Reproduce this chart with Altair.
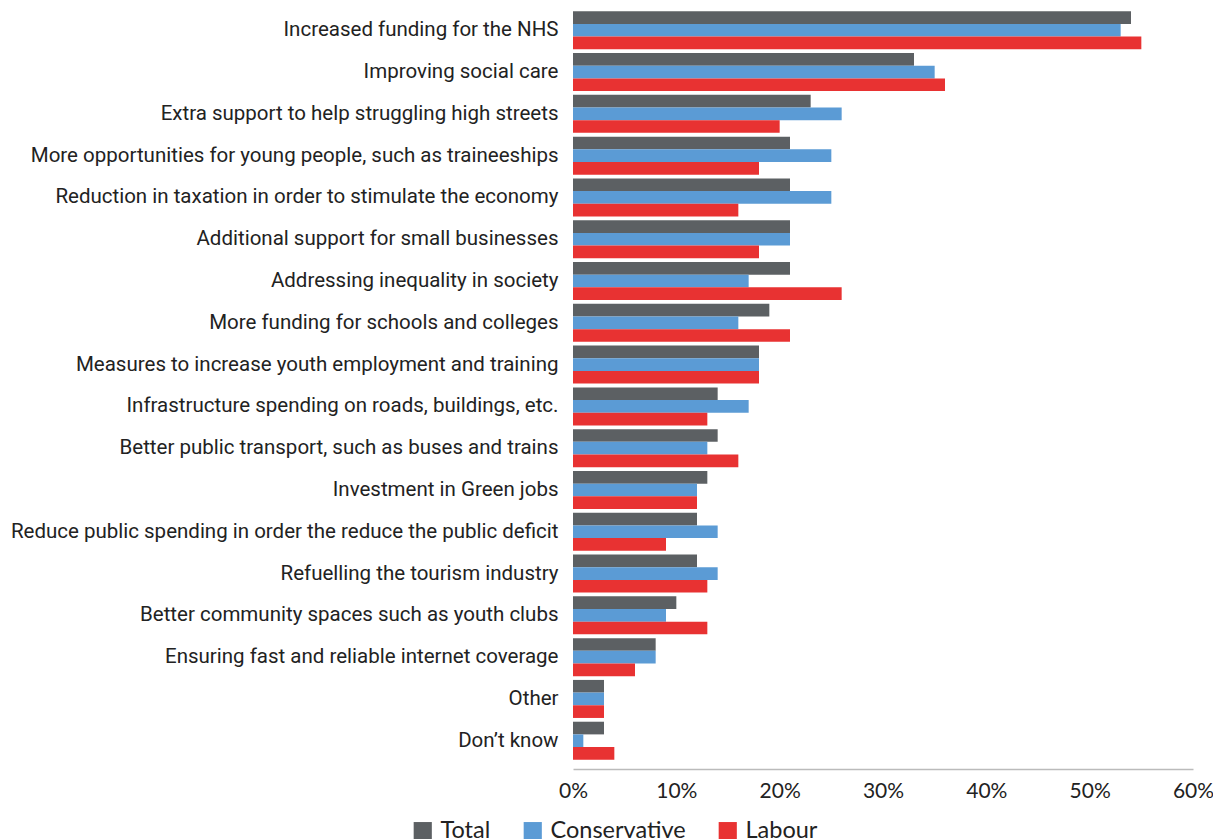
import altair as alt
import pandas as pd

categories = [
    "Increased funding for the NHS",
    "Improving social care",
    "Extra support to help struggling high streets",
    "More opportunities for young people, such as traineeships",
    "Reduction in taxation in order to stimulate the economy",
    "Additional support for small businesses",
    "Addressing inequality in society",
    "More funding for schools and colleges",
    "Measures to increase youth employment and training",
    "Infrastructure spending on roads, buildings, etc.",
    "Better public transport, such as buses and trains",
    "Investment in Green jobs",
    "Reduce public spending in order the reduce the public deficit",
    "Refuelling the tourism industry",
    "Better community spaces such as youth clubs",
    "Ensuring fast and reliable internet coverage",
    "Other",
    "Don\u2019t know",
]
series = ["Total", "Conservative", "Labour"]
total = [54, 33, 23, 21, 21, 21, 21, 19, 18, 14, 14, 13, 12, 12, 10, 8, 3, 3]
conservative = [53, 35, 26, 25, 25, 21, 17, 16, 18, 17, 13, 12, 14, 14, 9, 8, 3, 1]
labour = [55, 36, 20, 18, 16, 18, 26, 21, 18, 13, 16, 12, 9, 13, 13, 6, 3, 4]
colors = ["#5c6063", "#5b9bd5", "#e83232"]

rows = []
for i, c in enumerate(categories):
    for s, vals in zip(series, [total, conservative, labour]):
        rows.append({"category": c, "series": s, "value": vals[i] / 100})
df = pd.DataFrame(rows)

chart = alt.Chart(df).mark_bar().encode(
    y=alt.Y("category:N", sort=categories,
            scale=alt.Scale(paddingInner=0.09, paddingOuter=0.03),
            axis=alt.Axis(title=None, ticks=False, domain=False, labelFontSize=20.5,
                          labelFont="Roboto", labelColor="#222222",
                          labelPadding=15, labelLimit=700)),
    yOffset=alt.YOffset("series:N", sort=series),
    x=alt.X("value:Q", scale=alt.Scale(domain=[0, 0.6]),
            axis=alt.Axis(title=None, format=".0%", values=[0, 0.1, 0.2, 0.3, 0.4, 0.5, 0.6],
                          grid=False, ticks=False, domainColor="#bbbbbb", domainWidth=1.5,
                          labelFontSize=21, labelFont="Lato", labelColor="#222222",
                          labelPadding=11, offset=8, labelFlush=False)),
    color=alt.Color("series:N", sort=series,
                    scale=alt.Scale(domain=series, range=colors),
                    legend=alt.Legend(title=None, orient="none", direction="horizontal",
                                      legendX=-162, legendY=809, symbolType="square",
                                      symbolSize=330, symbolStrokeWidth=0, labelFontSize=23.5,
                                      labelFont="Lato", labelColor="#222222", labelOffset=6,
                                      columnPadding=30, symbolOpacity=1)),
).properties(
    width=620, height=751,
    autosize=alt.AutoSizeParams(type="none"),
    padding={"left": 565, "top": 2, "right": 20, "bottom": 90},
).configure_view(stroke=None)

chart.save("out.html", embed_options={"renderer": "svg", "actions": False})
